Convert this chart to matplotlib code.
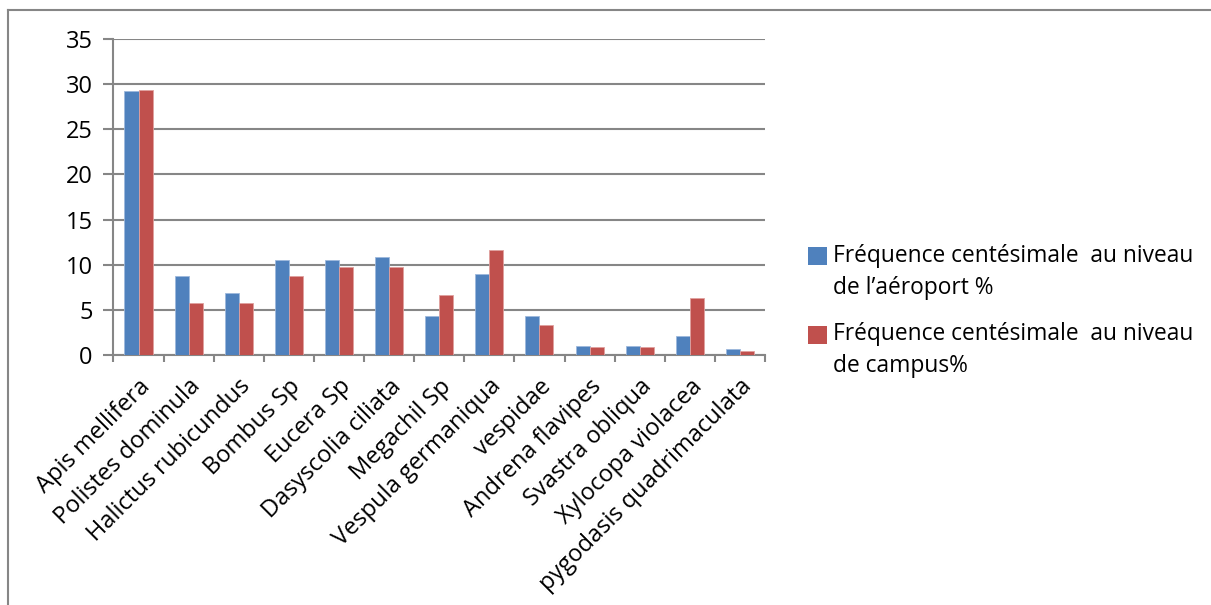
import numpy as np
import matplotlib
matplotlib.use("Agg")
import matplotlib.pyplot as plt
from matplotlib.lines import Line2D
from matplotlib.patches import Rectangle
from matplotlib.legend_handler import HandlerPatch

species = ["Apis mellifera", "Polistes dominula", "Halictus rubicundus", "Bombus Sp",
           "Eucera Sp", "Dasyscolia ciliata", "Megachil Sp", "Vespula germaniqua",
           "vespidae", "Andrena flavipes", "Svastra obliqua", "Xylocopa violacea",
           "pygodasis quadrimaculata"]
aeroport = [29.2, 8.7, 6.9, 10.5, 10.5, 10.9, 4.3, 9.0, 4.3, 1.0, 1.0, 2.1, 0.65]
campus = [29.3, 5.8, 5.8, 8.7, 9.7, 9.7, 6.7, 11.6, 3.3, 0.9, 0.9, 6.3, 0.4]
labels = ["Fréquence centésimale  au niveau\nde l\u2019aéroport %",
          "Fréquence centésimale  au niveau\nde campus%"]

plt.rcParams['font.family'] = ['Open Sans', 'DejaVu Sans']
grey = "#868686"
fs = 17


def top_square(legend, orig_handle, xdescent, ydescent, width, height, fontsize):
    # put the legend square next to the first line of the label
    return Rectangle((-xdescent, -ydescent + 0.72 * fontsize), width, height)


fig = plt.figure(figsize=(12.11, 6.05), dpi=100)
ax = fig.add_axes([0.0937, 0.4132, 0.538, 0.5223])

# outer chart frame (top and left only visible)
fig.add_artist(Line2D([8 / 1211, 8 / 1211], [0, 1 - 10 / 605], color=grey, lw=1.5))
fig.add_artist(Line2D([8 / 1211, 1], [1 - 10 / 605, 1 - 10 / 605], color=grey, lw=1.5))

x = np.arange(len(species))
w = 0.28
b1 = ax.bar(x - w / 2, aeroport, w, color="#4F81BD", edgecolor="#9db8dc", linewidth=0.6,
            zorder=3)
b2 = ax.bar(x + w / 2, campus, w, color="#C0504D", edgecolor="#e0a09e", linewidth=0.6,
            zorder=3)

ax.set_xlim(-0.5, len(species) - 0.5)
ax.set_ylim(0, 35)
ax.set_yticks(range(0, 36, 5))
ax.yaxis.grid(True, color=grey, lw=1.5, zorder=0)
ax.set_axisbelow(True)

ax.set_xticks(x)
ax.set_xticklabels(species, rotation=45, ha="right", va="top", rotation_mode="anchor",
                   fontsize=fs)
ax.set_xticks(np.arange(-0.5, len(species)), minor=True)
ax.tick_params(axis="x", which="major", length=0, pad=14)
ax.tick_params(axis="x", which="minor", length=5, width=1.5, color=grey)
ax.tick_params(axis="y", length=7, width=1.5, color=grey, labelsize=fs, pad=8)

for s in ["top", "right"]:
    ax.spines[s].set_visible(False)
for s in ["left", "bottom"]:
    ax.spines[s].set_color(grey)
    ax.spines[s].set_linewidth(1.5)

h1, h2 = b1.patches[0], b2.patches[0]
hm = {h1: HandlerPatch(patch_func=top_square), h2: HandlerPatch(patch_func=top_square)}
leg = ax.legend([h1, h2], labels, loc="center left",
                bbox_to_anchor=(808 / 1211, 1 - 311 / 605),
                bbox_transform=fig.transFigure, frameon=False, borderpad=0,
                borderaxespad=0, fontsize=16.4, handlelength=0.85, handleheight=0.85,
                handletextpad=0.25, labelspacing=1.0, handler_map=hm)
for t in leg.get_texts():
    t.set_linespacing(1.45)
for p in leg.get_patches():
    p.set_edgecolor("none")

fig.savefig("out.png", dpi=100)
